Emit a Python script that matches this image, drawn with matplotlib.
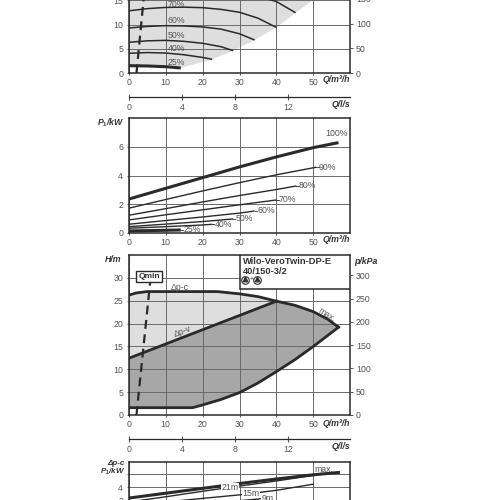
import numpy as np
import matplotlib
matplotlib.use('Agg')
import matplotlib.pyplot as plt
from matplotlib.patches import Rectangle

plt.rcParams['font.family'] = ['Liberation Sans Narrow', 'Liberation Sans', 'DejaVu Sans']
plt.rcParams['mathtext.fontset'] = 'custom'
plt.rcParams['mathtext.it'] = 'Liberation Sans:italic:bold'
plt.rcParams['mathtext.rm'] = 'Liberation Sans:bold'
plt.rcParams['mathtext.bf'] = 'Liberation Sans:bold'

# ---------------- data ----------------
# Panel 1: H(Q) per speed step
pct_labels = ['25%', '40%', '50%', '60%', '70%', '80%', '90%', '100%']
h_Q = [
    [0, 5, 10, 14.1],
    [0, 5, 10, 15, 20, 22.6],
    [0, 5, 10, 15, 20, 25, 28.3],
    [0, 5, 10, 15, 20, 25, 30, 34.1],
    [0, 5, 10, 15, 20, 25, 30, 35, 40],
    [0, 10, 20, 30, 35, 40, 45.2],
    [0, 10, 20, 30, 40, 45, 50.8],
    [0, 10, 20, 30, 40, 50, 56.8],
]
h_H = [
    [1.56, 1.5, 1.35, 1.09],
    [4.1, 4.25, 4.15, 3.8, 3.25, 2.87],
    [6.35, 6.65, 6.75, 6.55, 6.15, 5.45, 4.64],
    [9.28, 9.6, 9.76, 9.7, 9.5, 9.05, 8.1, 6.82],
    [12.8, 13.25, 13.5, 13.55, 13.45, 13.1, 12.5, 11.3, 9.4],
    [16.6, 17.2, 17.1, 16.3, 15.8, 14.7, 12.4],
    [21.0, 21.8, 21.7, 20.9, 19.3, 17.9, 15.5],
    [26.0, 26.9, 26.8, 25.9, 24.0, 21.6, 19.2],
]
h_label_Q = 10.6
h_label_H = [2.3, 4.98, 7.65, 10.8, 14.2]

# Panel 2: P1(Q) per speed step
p_Q = [
    [0, 7, 14.1],
    [0, 10, 20, 22.6],
    [0, 10, 20, 28.3],
    [0, 10, 20, 30, 34.1],
    [0, 10, 20, 30, 40],
    [0, 10, 20, 30, 40, 45.4],
    [0, 10, 20, 30, 40, 50.8],
    [0, 10, 20, 30, 40, 50, 56.8],
]
p_P = [
    [0.12, 0.155, 0.19],
    [0.31, 0.42, 0.54, 0.59],
    [0.42, 0.6, 0.78, 0.96],
    [0.59, 0.85, 1.1, 1.37, 1.52],
    [0.89, 1.25, 1.6, 1.95, 2.29],
    [1.22, 1.68, 2.15, 2.6, 3.02, 3.27],
    [1.71, 2.32, 2.92, 3.5, 4.05, 4.58],
    [2.35, 3.1, 3.85, 4.6, 5.3, 5.95, 6.3],
]

# Panel 3: control-mode envelope
max_Q = [0, 2, 5, 10, 15, 20, 24, 30, 35, 40, 45, 50, 54, 56.8]
max_H = [26.2, 26.7, 27, 27, 27, 27, 27, 26.5, 25.9, 24.9, 24.0, 22.6, 20.9, 19.2]
dpv_Q = [0, 40]
dpv_H = [12.4, 24.9]
min_Q = [0, 17.3, 20, 25, 30, 35, 40, 45, 50, 56.8]
min_H = [1.6, 1.6, 2.2, 3.4, 4.9, 7.0, 9.5, 12.1, 15.0, 19.2]
qmin_Q = [2.1, 5.8]
qmin_H = [0, 29.0]

# Panel 4: P1 for delta p-c
dpc_labels = ['21m', '15m', '9m']
dpc_Q = [
    [0, 10, 20, 28, 40, 50, 52],
    [0, 10, 20, 30, 40, 50],
    [0, 10, 20, 30, 39],
]
dpc_P = [
    [1.75, 2.55, 3.4, 4.05, 5.0, 5.85, 6.15],
    [1.2, 1.75, 2.3, 2.85, 3.55, 4.5],
    [0.75, 1.15, 1.55, 1.95, 2.4],
]
dpc_label_Q = [27.5, 33.0, 37.5]
dpc_label_P = [3.95, 3.05, 2.35]

x_ticks = [0, 10, 20, 30, 40, 50]
ls_ticks = [0, 4, 8, 12]

# ---------------- style ----------------
W = H = 500
DARK = '#2a2a2a'
GRIDC = '#6a6a6a'
TXT = '#555555'
LIGHT = '#dedede'
MID = '#a7a7a7'
FS = 6.3

fig = plt.figure(figsize=(5, 5), dpi=100)


def axes_px(left, right, top, bottom):
    return fig.add_axes([left / W, 1 - bottom / H, (right - left) / W, (bottom - top) / H])


def style(ax, yt, ylab=None):
    ax.set_xlim(0, 60)
    ax.set_xticks(x_ticks)
    ax.set_yticks(yt)
    if ylab is not None:
        ax.set_yticklabels(ylab)
    ax.set_axisbelow(True)
    ax.grid(True, color=GRIDC, lw=0.7)
    for s in ax.spines.values():
        s.set_color(DARK)
        s.set_linewidth(1.1)
    ax.tick_params(axis='both', labelsize=FS, colors=TXT, length=1.5, width=0.7, pad=2)
    ax.tick_params(axis='y', pad=2.5)


def rtext(x, y, s, **kw):
    fig.text(x / W, 1 - y / H, s, **kw)


lab_kw = dict(fontsize=6.3, fontweight='bold', style='italic', color='#333333', va='center')

L, R = 128.7, 350.3

# ---- Panel 1 ----
ax1 = axes_px(L, R, 73.3 - 20 * 4.88, 73.3)
style(ax1, [0, 5, 10, 15])
ax1.set_ylim(0, 20)
# grey operating area: below by 25% curve and curve ends, above by 100% curve
poly_x = list(h_Q[0]) + [h_Q[i][-1] for i in range(1, 8)] + list(h_Q[7][::-1])
poly_y = list(h_H[0]) + [h_H[i][-1] for i in range(1, 8)] + list(h_H[7][::-1])
ax1.fill(poly_x, poly_y, color=LIGHT, lw=0, zorder=0.2)
for i in range(8):
    ax1.plot(h_Q[i], h_H[i], color=DARK, lw=2.2 if i in (0, 7) else 1.1,
             solid_capstyle='butt', zorder=3)
for i in range(5):
    ax1.text(h_label_Q, h_label_H[i], pct_labels[i], fontsize=FS, color=TXT,
             ha='left', va='center', zorder=4)
ax1.plot(qmin_Q, qmin_H, color=DARK, lw=1.6, dashes=(4, 2.5), zorder=3)
ax1r = ax1.twinx()
ax1r.set_ylim(0, 20 * 9.81)
ax1r.set_yticks([0, 50, 100, 150])
ax1r.tick_params(axis='y', labelsize=FS, colors=TXT, length=2, width=0.7, pad=2)
for s in ax1r.spines.values():
    s.set_visible(False)
rtext(R, 80, 'Q/m³/h', ha='right', **lab_kw)


# l/s axis
def ls_axis(y, ylab):
    a = fig.add_axes([L / W, 1 - y / H, (R - L) / W, 0.0001])
    a.set_xlim(0, 60 / 3.6)
    a.set_xticks(ls_ticks)
    a.set_yticks([])
    for k in ('top', 'left', 'right'):
        a.spines[k].set_visible(False)
    a.spines['bottom'].set_color(DARK)
    a.spines['bottom'].set_linewidth(0.9)
    a.tick_params(axis='x', labelsize=FS, colors=TXT, direction='inout', length=4, width=0.8, pad=2.5)
    a.patch.set_alpha(0)
    rtext(R, ylab, 'Q/l/s', ha='right', **lab_kw)


ls_axis(96.8, 104.5)

# ---- Panel 2 ----
ax2 = axes_px(L, R, 118.3, 232.7)
style(ax2, [0, 2, 4, 6])
ax2.set_ylim(0, 8)
for i in range(8):
    ax2.plot(p_Q[i], p_P[i], color=DARK, lw=2.2 if i in (0, 7) else 1.0,
             solid_capstyle='butt', zorder=3)
    if i < 7:
        ax2.plot([p_Q[i][-1], p_Q[i][-1] + 0.6], [p_P[i][-1]] * 2, color=DARK, lw=0.6)
        ax2.text(p_Q[i][-1] + 0.7, p_P[i][-1], pct_labels[i], fontsize=FS, color=TXT,
                 ha='left', va='center')
    else:
        ax2.text(p_Q[i][-1] - 0.5, p_P[i][-1] + 0.3, pct_labels[i], fontsize=FS, color=TXT,
                 ha='center', va='bottom')
rtext(125, 123, r'$P_1$/kW', ha='right', **lab_kw)
rtext(R, 240, 'Q/m³/h', ha='right', **lab_kw)

# ---- Panel 3 ----
ax3 = axes_px(L, R, 255, 415)
style(ax3, [0, 5, 10, 15, 20, 25, 30])
ax3.set_ylim(0, 35)
lq = [q for q in max_Q if q <= 40]
lh = [h for q, h in zip(max_Q, max_H) if q <= 40]
ax3.fill(lq + dpv_Q[::-1], lh + dpv_H[::-1], color=LIGHT, lw=0, zorder=0.2)
rq = [q for q in max_Q if q >= 40]
rh = [h for q, h in zip(max_Q, max_H) if q >= 40]
ax3.fill(min_Q + rq[::-1] + dpv_Q[::-1], min_H + rh[::-1] + dpv_H[::-1],
         color=MID, lw=0, zorder=0.2)
ax3.plot(max_Q, max_H, color=DARK, lw=2.0, zorder=3)
ax3.plot(dpv_Q, dpv_H, color=DARK, lw=2.0, zorder=3)
ax3.plot(min_Q, min_H, color=DARK, lw=2.0, zorder=3)
ax3.plot(qmin_Q, qmin_H, color=DARK, lw=1.6, dashes=(4, 2.5), zorder=3)
ax3.text(13.7, 27.9, 'Δp-c', fontsize=FS, color=TXT, ha='center', va='center')
ax3.text(14.6, 18.3, 'Δp-v', fontsize=FS, color=TXT, ha='center', va='center', rotation=21)
ax3.text(53.6, 21.9, 'max.', fontsize=FS, color=TXT, ha='center', va='center', rotation=-33)
ax3.text(5.6, 30.3, 'Qmin', fontsize=6, fontweight='bold', color='#333333', ha='center', va='center',
         zorder=5, bbox=dict(boxstyle='square,pad=0.25', fc='white', ec=DARK, lw=1.0))
ax3.add_patch(Rectangle((30, 27.6), 30, 7.4, fc='white', ec=DARK, lw=1.1, zorder=4))
ax3.text(30.9, 33.5, 'Wilo-VeroTwin-DP-E', fontsize=6.7, fontweight='bold', color='#333333',
         ha='left', va='center', zorder=5)
ax3.text(30.9, 31.5, '40/150-3/2', fontsize=6.7, fontweight='bold', color='#333333',
         ha='left', va='center', zorder=5)
for qx in (31.6, 34.8):
    ax3.plot([qx], [29.6], marker='o', ms=5.5, mfc='white', mec='#333333', mew=0.8, zorder=6)
    ax3.plot([qx], [29.65], marker='^', ms=3.3, color='#333333', zorder=7)
ax3.text(33.2, 29.6, '+', fontsize=5, color='#333333', ha='center', va='center', zorder=6)
ax3r = ax3.twinx()
ax3r.set_ylim(0, 35 * 9.81)
ax3r.set_yticks([0, 50, 100, 150, 200, 250, 300])
ax3r.tick_params(axis='y', labelsize=FS, colors=TXT, length=2, width=0.7, pad=2)
for s in ax3r.spines.values():
    s.set_visible(False)
rtext(121.7, 260, 'H/m', ha='right', **lab_kw)
rtext(354, 261, 'p/kPa', ha='left', **lab_kw)
rtext(R, 423.3, 'Q/m³/h', ha='right', **lab_kw)

ls_axis(438.5, 446.5)

# ---- Panel 4 ----
ax4 = axes_px(L, R, 461.5, 513.3)
style(ax4, [0, 2, 4, 6], ['0', '2', '4', ''])
ax4.set_ylim(0, 8)
ax4.plot(p_Q[7], p_P[7], color=DARK, lw=2.2, zorder=3)
for i in range(3):
    ax4.plot(dpc_Q[i], dpc_P[i], color=DARK, lw=1.0, zorder=3)
    ax4.text(dpc_label_Q[i], dpc_label_P[i], dpc_labels[i], fontsize=FS, color=TXT,
             ha='center', va='center', zorder=4,
             bbox=dict(boxstyle='square,pad=0.05', fc='white', ec='none'))
ax4.text(52.8, 6.75, 'max.', fontsize=FS, color=TXT, ha='center', va='center')
lab4 = dict(lab_kw)
lab4['fontsize'] = 5.8
rtext(125, 463.3, 'Δp-c', ha='right', **lab4)
rtext(125, 471.5, r'$P_1$/kW', ha='right', **lab4)

fig.savefig('out.png', dpi=100)
